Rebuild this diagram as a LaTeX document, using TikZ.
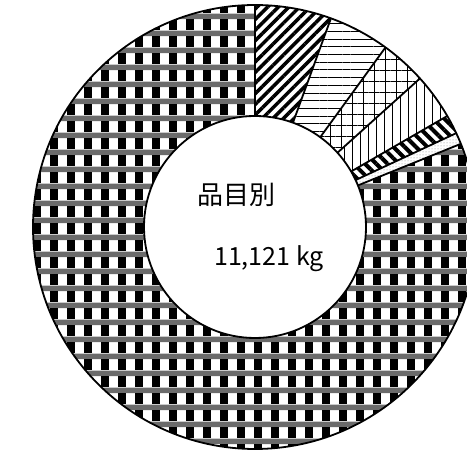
\documentclass[tikz,border=0pt]{standalone}
\usepackage{fontspec}
\newfontfamily\jpfont{Noto Sans CJK JP}
\usetikzlibrary{patterns,patterns.meta}

\pgfdeclarepatterninherentlycolored{plaid}{\pgfpointorigin}{\pgfpoint{16.7pt}{16.7pt}}{\pgfpoint{16.7pt}{16.7pt}}{
  \pgfsetfillcolor{black!58}
  \pgfpathrectangle{\pgfpoint{0pt}{11pt}}{\pgfpoint{16.7pt}{5.7pt}}
  \pgfusepath{fill}
  \pgfsetfillcolor{black}
  \pgfpathrectangle{\pgfpoint{0pt}{0pt}}{\pgfpoint{8pt}{11pt}}
  \pgfusepath{fill}
}

\tikzset{
  rim/.style={draw=black, line width=1.8pt},
  diagfill/.style={pattern={Lines[angle=45, distance=7.5pt, line width=3.5pt]}},
  hfill/.style={pattern={Lines[angle=0, distance=7.7pt, line width=1pt]}},
  gridfill/.style={pattern={Hatch[angle=0, distance=11pt, line width=0.8pt]}},
  vfill/.style={pattern={Lines[angle=90, distance=8pt, line width=1pt]}},
  thickfill/.style={pattern={Lines[angle=-45, distance=8pt, line width=4pt]}},
  thinfill/.style={pattern={Dots[distance=3pt, radius=0.5pt]}, pattern color=gray},
  plaidfill/.style={pattern=plaid}
}

\begin{document}
\begin{tikzpicture}[x=1pt,y=1pt]
\useasboundingbox (0,0) rectangle (467,455);
\clip (0,0) rectangle (467,455);
\coordinate (o) at (255,228);

% slices, clockwise from the top
\foreach \a/\b/\s in {90/70/diagfill, 70/54/hfill, 54/42/gridfill, 42/30/vfill,
    30/25/thickfill, 25/22/thinfill, 22/-270/plaidfill}
  \path[\s] ([shift={(\a:222pt)}]o) arc[start angle=\a, end angle=\b, radius=222pt]
    -- ([shift={(\b:111pt)}]o) arc[start angle=\b, end angle=\a, radius=111pt] -- cycle;

\draw[rim] (o) circle[radius=222pt] (o) circle[radius=111pt];
\foreach \a in {90,70,54,42,30,25,22}
  \draw[rim] ([shift={(\a:111pt)}]o) -- ([shift={(\a:222pt)}]o);

\node at (236.5,260.5) (title) {\jpfont\fontsize{26}{26}\selectfont 品目別};
\node at (269,196) (total) {\jpfont\fontsize{25}{25}\selectfont 11,121 kg};

\end{tikzpicture}
\end{document}
